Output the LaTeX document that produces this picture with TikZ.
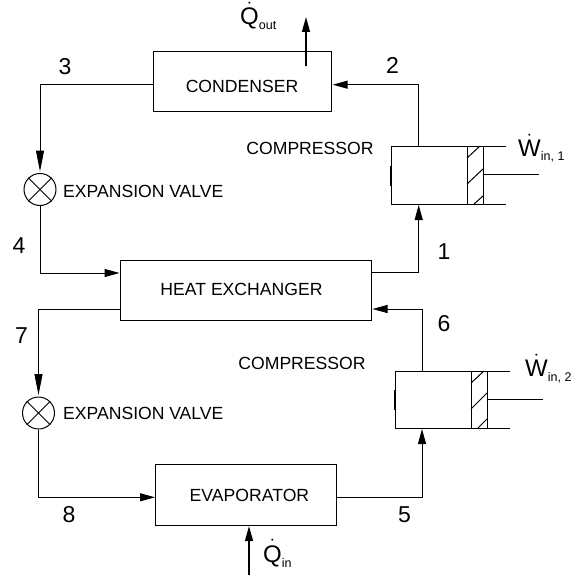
\documentclass[tikz,border=0pt]{standalone}
\usepackage{fontspec}
\setmainfont{Liberation Sans}
\usepackage{amsmath}
\usetikzlibrary{arrows.meta}
\tikzset{
  unitbox/.style={draw, line width=1pt, inner sep=0pt},
  valve/.style={draw, circle, line width=1pt, minimum size=32pt, inner sep=0pt},
  flow/.style={line width=1pt, -{Triangle[length=15pt,width=8pt]}, shorten >=1pt},
  valveflow/.style={line width=1pt, -{Triangle[length=21pt,width=8pt]}, shorten >=1.5pt},
  heatflow/.style={line width=1.5pt, -{Triangle[length=15pt,width=8pt]}},
  pipe/.style={line width=1pt},
  caption/.style={inner sep=0pt, font=\fontsize{17.6}{20}\selectfont},
  statenum/.style={inner sep=0pt, font=\fontsize{23}{24}\selectfont},
  power/.style={inner sep=0pt, anchor=base west, font=\fontsize{24}{28}\selectfont},
}
\newcommand{\heatlabel}[2]{$\dot{\mathrm{#1}}$\raisebox{-5pt}{\fontsize{12.5}{14}\selectfont #2}}
\begin{document}
\begin{tikzpicture}[x=1pt,y=-1pt]
\useasboundingbox (0,0) rectangle (573,575);
\fill[white] (0,0) rectangle (573,575);

% =========================================================
% Boxes
% =========================================================
\node[unitbox, minimum width=178.4pt, minimum height=60pt] (condenser) at (242.5,81.7) {};
\node[caption] (condensertext) at (242,86) {CONDENSER};
\node[unitbox, minimum width=251pt, minimum height=60pt] (exchanger) at (246,290.7) {};
\node[caption] (exchangertext) at (241.5,289.5) {HEAT EXCHANGER};
\node[unitbox, minimum width=180.7pt, minimum height=60.7pt] (evaporator) at (246.3,495.3) {};
\node[caption] (evaporatortext) at (249.4,495.5) {EV\kern-1.2pt APORA\kern-1.2pt TOR};

% =========================================================
% Expansion valves
% =========================================================
\node[valve] (valveA) at (40,189.5) {};
\draw[pipe] (valveA.north west) -- (valveA.south east) (valveA.north east) -- (valveA.south west);
\node[caption, anchor=west] (valveAtext) at (63,191) {EXPANSION V\kern-1.5pt ALVE};
\node[valve] (valveB) at (38.5,413) {};
\draw[pipe] (valveB.north west) -- (valveB.south east) (valveB.north east) -- (valveB.south west);
\node[caption, anchor=west] (valveBtext) at (63,413.7) {EXPANSION V\kern-1.5pt ALVE};

% =========================================================
% Compressor 1 (oben)
% =========================================================
\begin{scope}[shift={(391,146)}]
\coordinate (cylAtop) at (27.7,0);
\coordinate (cylAbot) at (27.7,58);
\draw[pipe] (115,0) -- (0,0) -- (0,58) -- (115,58);
\draw[line width=1.6pt] (0,20) -- (0,40); % dicke Stelle
\draw[pipe] (76,0) -- (76,58) (92,0) -- (92,58);
\draw[pipe] (92,28) -- (148,28);
\draw[pipe] (76,12) -- (89,0) (76,38) -- (92,23) (83,58) -- (92,50);
\end{scope}

% =========================================================
% Compressor 2 (unten)
% =========================================================
\begin{scope}[shift={(395,371)}]
\coordinate (cylBtop) at (27,0);
\coordinate (cylBbot) at (27,57);
\draw[pipe] (115,0) -- (0,0) -- (0,57) -- (115,57);
\draw[line width=1.6pt] (0,19) -- (0,39);
\draw[pipe] (76,0) -- (76,57) (92,0) -- (92,57);
\draw[pipe] (92,28) -- (148,28);
\draw[pipe] (76,12) -- (89,0) (76,38) -- (92,22) (83,57) -- (92,48);
\end{scope}

% =========================================================
% Connectors
% =========================================================
\coordinate (condenserin) at (331.7,84.7);
\coordinate (condenserout) at (153.3,84.7);
\coordinate (exchangerinA) at (120.5,273);
\coordinate (exchangeroutA) at (371.5,272.7);
\coordinate (exchangerinB) at (371.5,309);
\coordinate (exchangeroutB) at (120.5,309);
\coordinate (evaporatorin) at (156,497.3);
\coordinate (evaporatorout) at (336.7,497.3);
\coordinate (heatoutstart) at (306,66);
\coordinate (heatoutend) at (306,17);
\coordinate (heatinstart) at (249,575);

\draw[flow] (cylAtop) |- (condenserin);
\draw[valveflow] (condenserout) -| (valveA.north);
\draw[flow] (valveA.south) |- (exchangerinA);
\draw[flow] (exchangeroutA) -| (cylAbot);
\draw[flow] (cylBtop) |- (exchangerinB);
\draw[valveflow] (exchangeroutB) -| (valveB.north);
\draw[flow] (valveB.south) |- (evaporatorin);
\draw[flow] (evaporatorout) -| (cylBbot);
\draw[heatflow] (heatoutstart) -- (heatoutend);
\draw[heatflow] (heatinstart) -- (heatinstart |- evaporator.south);

% =========================================================
% Labels
% =========================================================
\node[statenum] (numA) at (444,252) {1};
\node[statenum] (numB) at (392.5,65) {2};
\node[statenum] (numC) at (65,66.5) {3};
\node[statenum] (numD) at (19,246) {4};
\node[statenum] (numE) at (404.5,515) {5};
\node[statenum] (numF) at (444,324) {6};
\node[statenum] (numG) at (21.5,335.5) {7};
\node[statenum] (numH) at (69,515) {8};
\node[caption] (compressorA) at (310,148) {COMPRESSOR};
\node[caption] (compressorB) at (302,363.5) {COMPRESSOR};
\node[power] (qout) at (240,25) {\heatlabel{Q}{out}};
\node[power] (qin) at (263,562) {\heatlabel{Q}{in}};
\node[power] (wina) at (518,156) {\heatlabel{W}{in, 1}};
\node[power] (winb) at (525,376) {\heatlabel{W}{in, 2}};
\end{tikzpicture}
\end{document}
